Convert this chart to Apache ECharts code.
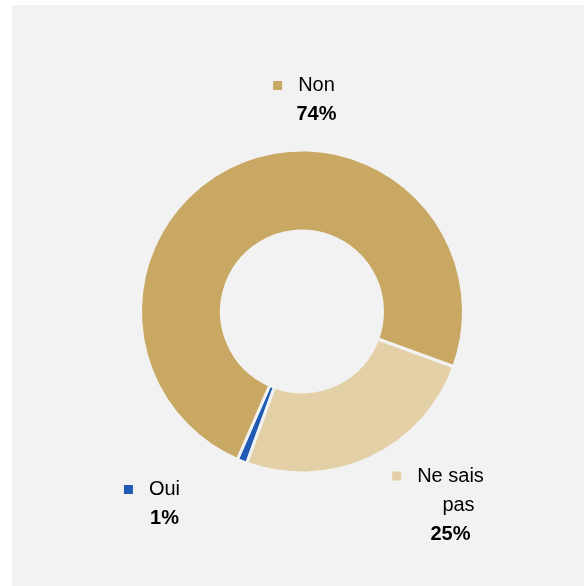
<!DOCTYPE html>
<html>
<head>
<meta charset="utf-8">
<script src="https://cdn.jsdelivr.net/npm/echarts@6/dist/echarts.min.js"></script>
<style>
  html, body { margin: 0; padding: 0; background: #ffffff; }
  #chart { width: 584px; height: 586px; }
</style>
</head>
<body>
<div id="chart"></div>
<script>
// Survey answers and their shares (percent)
const categories = ['Oui', 'Non', 'Ne sais pas'];
const shares = [1, 74, 25];
const labelLines = [['Oui'], ['Non'], ['Ne sais', 'pas']];
const colors = ['#1f5bb4', '#c8a862', '#e3d0a7'];

// Where each label block sits (label centre, px)
const labelPos = [
  { x: 152, y: 504 },
  { x: 304, y: 100 },
  { x: 438, y: 505 }
];

const chart = echarts.init(document.getElementById('chart'), null, { renderer: 'canvas' });

function labelText(i) {
  const lines = labelLines[i];
  let out = '{sq|}{txt|' + lines[0] + '}';
  for (let k = 1; k < lines.length; k++) out += '\n{sp|}{txt|' + lines[k] + '}';
  out += '\n{sp|}{pct|' + shares[i] + '%}';
  return out;
}

const data = categories.map((name, i) => ({
  name: name,
  value: shares[i],
  itemStyle: { color: colors[i] },
  label: { formatter: labelText(i) }
}));

const font = 'Liberation Sans, Arial, sans-serif';

chart.setOption({
  animation: false,
  backgroundColor: '#ffffff',
  graphic: [{
    type: 'rect',
    z: -10,
    shape: { x: 12, y: 5, width: 572, height: 581 },
    style: { fill: '#f2f2f2' }
  }],
  series: [{
    type: 'pie',
    center: [302, 311.5],
    radius: [80.5, 161.5],
    startAngle: 250,
    clockwise: true,
    avoidLabelOverlap: false,
    // slice separators take the panel colour so only the gaps show
    itemStyle: { borderColor: '#f2f2f2', borderWidth: 3 },
    label: {
      show: true,
      position: 'outside',
      align: 'center',
      verticalAlign: 'middle',
      fontFamily: font,
      color: '#000000',
      rich: {
        sq: { width: 9, height: 9, backgroundColor: 'inherit' },
        sp: { width: 25 },
        txt: { fontSize: 20, lineHeight: 29, color: '#000000', padding: [0, 0, 0, 16], fontFamily: font },
        pct: { fontSize: 20, lineHeight: 29, fontWeight: 'bold', color: '#000000', fontFamily: font }
      }
    },
    labelLine: { show: false },
    labelLayout: function (params) {
      const p = labelPos[params.dataIndex];
      return { x: p.x, y: p.y, align: 'center', verticalAlign: 'middle' };
    },
    emphasis: { disabled: true },
    data: data
  }]
});
</script>
</body>
</html>
